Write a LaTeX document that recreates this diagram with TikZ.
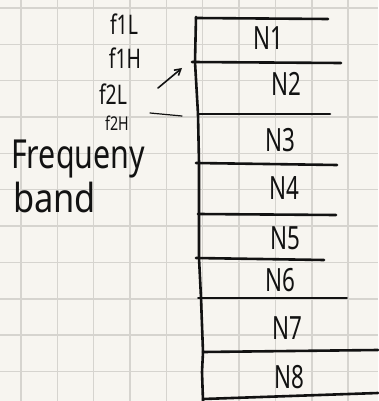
\documentclass[tikz,border=0pt]{standalone}
\usepackage{fontspec}
\setmainfont{Noto Sans}
\usepackage{graphicx}
\usetikzlibrary{arrows.meta}
\definecolor{paper}{HTML}{F7F5F0}
\definecolor{gridline}{HTML}{D6D4CF}
\definecolor{ink}{HTML}{121212}
% condensed lettering, closer to narrow handwriting
\newcommand\handtext[2]{\scalebox{#1}[1]{#2}}
\begin{document}
\begin{tikzpicture}[x=1pt,y=-1pt,
  band/.style={draw=ink, line width=2.6pt, line cap=round},
  thinband/.style={draw=ink, line width=1.6pt, line cap=round},
  cell/.style={inner sep=0pt, text=ink, font=\fontsize{32}{32}\selectfont},
  freq/.style={inner sep=0pt, text=ink, font=\fontsize{27}{27}\selectfont},
  title/.style={inner sep=0pt, text=ink, font=\fontsize{40}{40}\selectfont, anchor=base west},
  pointer/.style={draw=ink, line width=1.6pt, line cap=round}]

% paper and squared grid
\fill[paper] (0,0) rectangle (378,401);
\useasboundingbox (0,0) rectangle (378,401);
\foreach \i in {0,...,9}
  \draw[gridline, line width=1.4pt] ({21+36.35*\i},0) -- ({21+36.35*\i},401);
\foreach \i in {0,...,10}
  \draw[gridline, line width=1.4pt] (0,{8+36.35*\i}) -- (378,{8+36.35*\i});

% left edge of the band stack
\draw[band, line join=round] (196,17) -- (195,62) -- (198,114) -- (199,163)
  -- (199,214) -- (199,258) -- (201,298) -- (203,352) -- (202,372) -- (203,401);

% band separators
\draw[band] (196,18) -- (328,19);
\draw[band] (192,62) -- (341,63);
\draw[band] (199,114) -- (330,114);
\draw[band] (196,163) -- (337,165);
\draw[band] (198,214) -- (336,215);
\draw[band] (196,258) -- (324,260);
\draw[thinband] (198,298) -- (347,298);
\draw[band] (203,352) -- (378,350);
\draw[band] (203,399) -- (378,393);

% band names
\node[cell] (n1) at (268,38) {\handtext{0.7}{N1}};
\node[cell] (n2) at (286,84) {\handtext{0.7}{N2}};
\node[cell] (n3) at (280,140) {\handtext{0.7}{N3}};
\node[cell] (n4) at (284,188) {\handtext{0.7}{N4}};
\node[cell] (n5) at (285,238) {\handtext{0.7}{N5}};
\node[cell] (n6) at (280,280) {\handtext{0.7}{N6}};
\node[cell] (n7) at (287,328) {\handtext{0.7}{N7}};
\node[cell] (n8) at (289,377) {\handtext{0.7}{N8}};

% band edge frequencies
\node[freq] (f1l) at (124,24) {\handtext{0.72}{f1L}};
\node[freq] (f1h) at (125,58) {\handtext{0.72}{f1H}};
\node[freq] (f2l) at (113,94) {\handtext{0.72}{f2L}};
\node[freq, font=\fontsize{19}{19}\selectfont] (f2h) at (117,123) {\handtext{0.75}{f2H}};

% pointers to the band edges
\coordinate (a0) at (158,88);
\coordinate (a1) at (182,68);
\draw[pointer, -{Straight Barb[length=6pt,width=7pt]}] (a0) -- (a1);
\coordinate (b0) at (150,113);
\coordinate (b1) at (182,116);
\draw[pointer, line width=1.2pt] (b0) -- (b1);

% caption
\node[title] (fq) at (11,168) {\handtext{0.76}{Frequeny}};
\node[title] (bd) at (13,212) {\handtext{0.86}{band}};
\end{tikzpicture}
\end{document}
